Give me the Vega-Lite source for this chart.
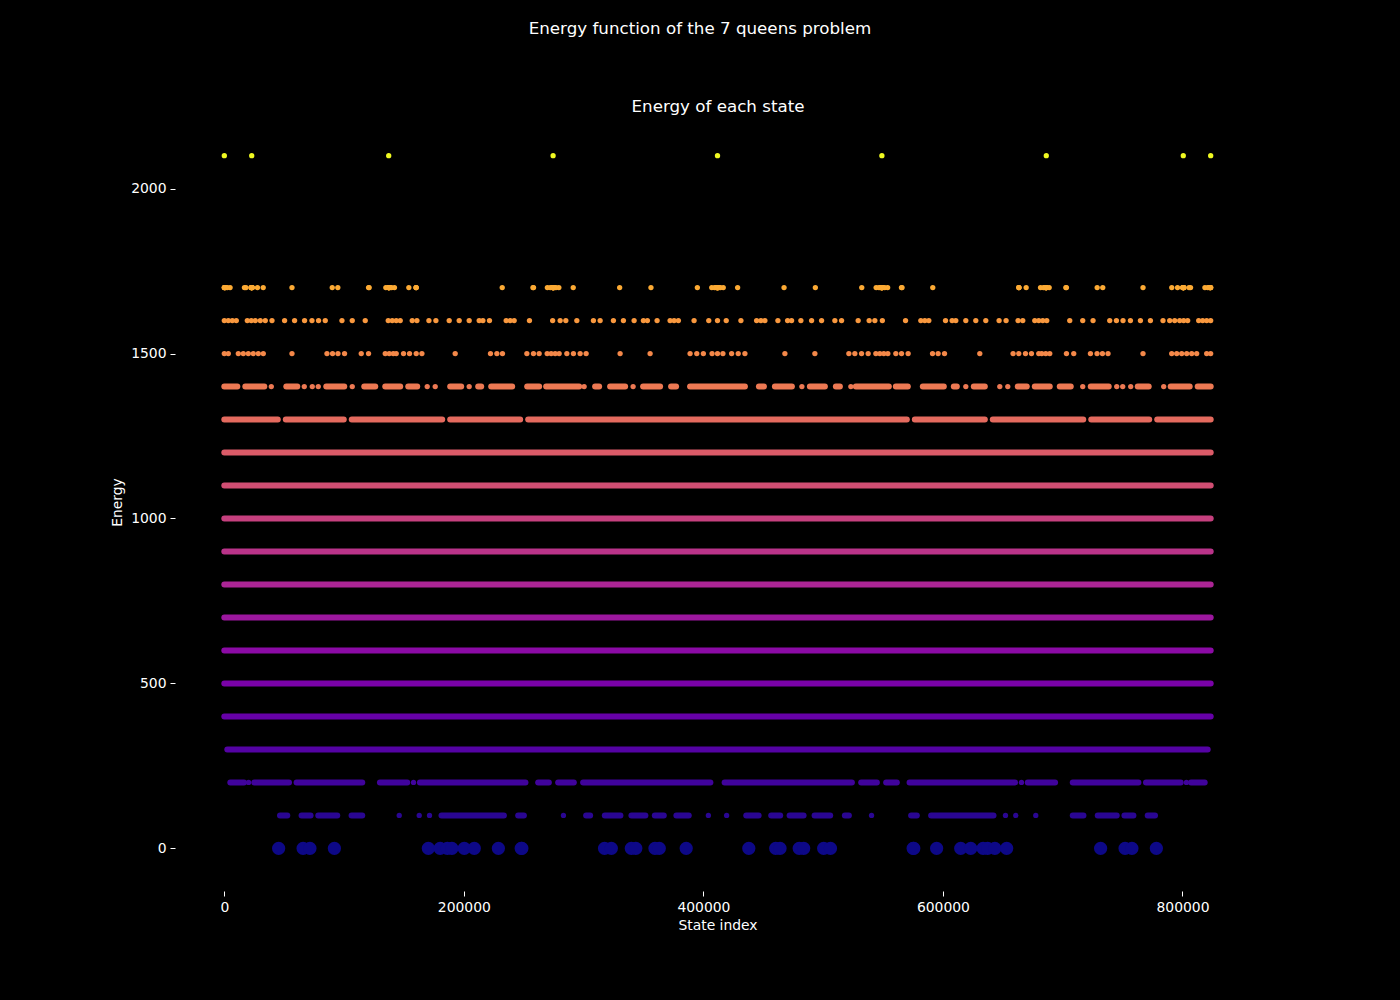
{
"$schema":"https://vega.github.io/schema/vega-lite/v6.json",
"width":1085,"height":762,
"autosize":{"type":"none"},
"padding":{"left":175,"top":121,"right":140,"bottom":117},
"background":"black",
"title":{"text":"Energy function of the 7 queens problem","fontSize":16.7,"font":"DejaVu Sans","fontWeight":"normal","color":"white","anchor":"middle","dx":-17.5,"offset":60},
"datasets":{
"pts":[
{"e":0,"x":45351},{"e":0,"x":65769},{"e":0,"x":71487},{"e":0,"x":91905},{"e":0,"x":170343},{"e":0,"x":180207},{"e":0,"x":186219},{"e":0,"x":189999},{"e":0,"x":200331},{"e":0,"x":208695},{"e":0,"x":228819},{"e":0,"x":247887},{"e":0,"x":248427},{"e":0,"x":317457},{"e":0,"x":323133},{"e":0,"x":339819},{"e":0,"x":343551},{"e":0,"x":359559},{"e":0,"x":363159},{"e":0,"x":385635},{"e":0,"x":437907},{"e":0,"x":460383},{"e":0,"x":463983},{"e":0,"x":479991},{"e":0,"x":483723},{"e":0,"x":500409},{"e":0,"x":506085},{"e":0,"x":575115},{"e":0,"x":575655},{"e":0,"x":594723},{"e":0,"x":614847},{"e":0,"x":623211},{"e":0,"x":633543},{"e":0,"x":637323},{"e":0,"x":643335},{"e":0,"x":653199},{"e":0,"x":731637},{"e":0,"x":752055},{"e":0,"x":757773},{"e":0,"x":778191},
{"e":2100,"x":0},{"e":2100,"x":22875},{"e":2100,"x":137257},{"e":2100,"x":274514},{"e":2100,"x":411771},{"e":2100,"x":549028},{"e":2100,"x":686285},{"e":2100,"x":800667},{"e":2100,"x":823542},
{"e":1700,"x":7},{"e":1700,"x":49},{"e":1700,"x":98},{"e":1700,"x":343},{"e":1700,"x":686},{"e":1700,"x":1029},{"e":1700,"x":2401},{"e":1700,"x":4802},{"e":1700,"x":16807},
{"e":1700,"x":120450},{"e":1700,"x":154064},{"e":1700,"x":137250},{"e":1700,"x":137264},{"e":1700,"x":134856},{"e":1700,"x":139658},{"e":1700,"x":142059},{"e":1700,"x":137208},{"e":1700,"x":137306},{"e":1700,"x":137355},{"e":1700,"x":136914},{"e":1700,"x":137600},{"e":1700,"x":137943},{"e":1700,"x":138286},
{"e":1700,"x":257707},{"e":1700,"x":291321},{"e":1700,"x":274507},{"e":1700,"x":274521},{"e":1700,"x":272113},{"e":1700,"x":276915},{"e":1700,"x":269712},{"e":1700,"x":279316},{"e":1700,"x":274465},{"e":1700,"x":274563},{"e":1700,"x":274416},{"e":1700,"x":274612},{"e":1700,"x":274171},{"e":1700,"x":274857},{"e":1700,"x":273828},{"e":1700,"x":275200},{"e":1700,"x":275543},
{"e":1700,"x":394964},{"e":1700,"x":428578},{"e":1700,"x":411764},{"e":1700,"x":411778},{"e":1700,"x":409370},{"e":1700,"x":414172},{"e":1700,"x":406969},{"e":1700,"x":416573},{"e":1700,"x":411722},{"e":1700,"x":411820},{"e":1700,"x":411673},{"e":1700,"x":411869},{"e":1700,"x":411428},{"e":1700,"x":412114},{"e":1700,"x":411085},{"e":1700,"x":412457},{"e":1700,"x":410742},{"e":1700,"x":412800},
{"e":1700,"x":565835},{"e":1700,"x":532221},{"e":1700,"x":549035},{"e":1700,"x":549021},{"e":1700,"x":551429},{"e":1700,"x":546627},{"e":1700,"x":553830},{"e":1700,"x":544226},{"e":1700,"x":549077},{"e":1700,"x":548979},{"e":1700,"x":549126},{"e":1700,"x":548930},{"e":1700,"x":549371},{"e":1700,"x":548685},{"e":1700,"x":549714},{"e":1700,"x":548342},{"e":1700,"x":547999},
{"e":1700,"x":703092},{"e":1700,"x":669478},{"e":1700,"x":686292},{"e":1700,"x":686278},{"e":1700,"x":688686},{"e":1700,"x":683884},{"e":1700,"x":681483},{"e":1700,"x":686334},{"e":1700,"x":686236},{"e":1700,"x":686187},{"e":1700,"x":686628},{"e":1700,"x":685942},{"e":1700,"x":685599},{"e":1700,"x":685256},
{"e":1700,"x":823535},{"e":1700,"x":823493},{"e":1700,"x":823444},{"e":1700,"x":823199},{"e":1700,"x":822856},{"e":1700,"x":822513},{"e":1700,"x":821141},{"e":1700,"x":818740},{"e":1700,"x":806735},
{"e":1700,"x":258173},{"e":1700,"x":493471},{"e":1700,"x":728769},{"e":1700,"x":56489},{"e":1700,"x":90103},{"e":1700,"x":18073},{"e":1700,"x":27677},{"e":1700,"x":32479},{"e":1700,"x":22189},{"e":1700,"x":23561},{"e":1700,"x":22679},{"e":1700,"x":22777},{"e":1700,"x":22973},{"e":1700,"x":22847},{"e":1700,"x":22861},{"e":1700,"x":22869},{"e":1700,"x":22871},{"e":1700,"x":22873},
{"e":1700,"x":94773},{"e":1700,"x":330071},{"e":1700,"x":565369},{"e":1700,"x":733439},{"e":1700,"x":767053},{"e":1700,"x":791063},{"e":1700,"x":795865},{"e":1700,"x":805469},{"e":1700,"x":799981},{"e":1700,"x":801353},{"e":1700,"x":800569},{"e":1700,"x":800765},{"e":1700,"x":800863},{"e":1700,"x":800681},{"e":1700,"x":800695},{"e":1700,"x":800669},{"e":1700,"x":800671},{"e":1700,"x":800673},
{"e":1700,"x":160126},{"e":1700,"x":160128},{"e":1700,"x":160130},{"e":1700,"x":120916},{"e":1700,"x":356214},{"e":1700,"x":591512},{"e":1700,"x":663412},{"e":1700,"x":663414},{"e":1700,"x":663416},{"e":1700,"x":702626},{"e":1700,"x":467328},{"e":1700,"x":232030},
{"e":1600,"x":1},{"e":1600,"x":3338},{"e":1600,"x":6676},{"e":1600,"x":10014},{"e":1600,"x":19194},{"e":1600,"x":22532},{"e":1600,"x":25870},{"e":1600,"x":30042},{"e":1600,"x":34215},{"e":1600,"x":39806},{"e":1600,"x":50320},{"e":1600,"x":58665},{"e":1600,"x":67010},{"e":1600,"x":73186},{"e":1600,"x":78693},{"e":1600,"x":84285},{"e":1600,"x":98221},{"e":1600,"x":106816},{"e":1600,"x":117665},{"e":1600,"x":136858},{"e":1600,"x":140196},{"e":1600,"x":143534},{"e":1600,"x":146872},{"e":1600,"x":156886},{"e":1600,"x":160808},{"e":1600,"x":170822},{"e":1600,"x":176664},{"e":1600,"x":187763},{"e":1600,"x":196108},{"e":1600,"x":204453},{"e":1600,"x":212798},{"e":1600,"x":215885},{"e":1600,"x":221393},{"e":1600,"x":235329},{"e":1600,"x":238667},{"e":1600,"x":242005},{"e":1600,"x":254773},{"e":1600,"x":274133},{"e":1600,"x":280392},{"e":1600,"x":285149},{"e":1600,"x":294328},{"e":1600,"x":308181},{"e":1600,"x":313772},{"e":1600,"x":324871},{"e":1600,"x":333216},{"e":1600,"x":342145},{"e":1600,"x":349906},{"e":1600,"x":353244},{"e":1600,"x":361339},{"e":1600,"x":372187},{"e":1600,"x":375525},{"e":1600,"x":379113},{"e":1600,"x":392215},{"e":1600,"x":404482},
{"e":1600,"x":411771},
{"e":1600,"x":823541},{"e":1600,"x":820204},{"e":1600,"x":816866},{"e":1600,"x":813528},{"e":1600,"x":804348},{"e":1600,"x":801010},{"e":1600,"x":797672},{"e":1600,"x":793500},{"e":1600,"x":789327},{"e":1600,"x":783736},{"e":1600,"x":773222},{"e":1600,"x":764877},{"e":1600,"x":756532},{"e":1600,"x":750356},{"e":1600,"x":744849},{"e":1600,"x":739257},{"e":1600,"x":725321},{"e":1600,"x":716726},{"e":1600,"x":705877},{"e":1600,"x":686684},{"e":1600,"x":683346},{"e":1600,"x":680008},{"e":1600,"x":676670},{"e":1600,"x":666656},{"e":1600,"x":662734},{"e":1600,"x":652720},{"e":1600,"x":646878},{"e":1600,"x":635779},{"e":1600,"x":627434},{"e":1600,"x":619089},{"e":1600,"x":610744},{"e":1600,"x":607657},{"e":1600,"x":602149},{"e":1600,"x":588213},{"e":1600,"x":584875},{"e":1600,"x":581537},{"e":1600,"x":568769},{"e":1600,"x":549409},{"e":1600,"x":543150},{"e":1600,"x":538393},{"e":1600,"x":529214},{"e":1600,"x":515361},{"e":1600,"x":509770},{"e":1600,"x":498671},{"e":1600,"x":490326},{"e":1600,"x":481397},{"e":1600,"x":473636},{"e":1600,"x":470298},{"e":1600,"x":462203},{"e":1600,"x":451355},{"e":1600,"x":448017},{"e":1600,"x":444429},{"e":1600,"x":431327},{"e":1600,"x":419060},
{"e":1500,"x":5},{"e":1500,"x":3338},{"e":1500,"x":11683},{"e":1500,"x":15856},{"e":1500,"x":20028},{"e":1500,"x":24201},{"e":1500,"x":28373},{"e":1500,"x":32546},{"e":1500,"x":56496},{"e":1500,"x":85703},{"e":1500,"x":90376},{"e":1500,"x":94883},{"e":1500,"x":100390},{"e":1500,"x":114327},{"e":1500,"x":120418},{"e":1500,"x":134355},{"e":1500,"x":137693},{"e":1500,"x":141031},{"e":1500,"x":143534},{"e":1500,"x":149626},{"e":1500,"x":154633},{"e":1500,"x":160224},{"e":1500,"x":164981},{"e":1500,"x":192770},{"e":1500,"x":222227},{"e":1500,"x":227568},{"e":1500,"x":232241},{"e":1500,"x":252603},{"e":1500,"x":258111},{"e":1500,"x":262868},{"e":1500,"x":269544},{"e":1500,"x":272882},{"e":1500,"x":276220},{"e":1500,"x":279558},{"e":1500,"x":285983},{"e":1500,"x":291491},{"e":1500,"x":297082},{"e":1500,"x":302089},{"e":1500,"x":330462},{"e":1500,"x":355497},{"e":1500,"x":388877},{"e":1500,"x":394468},{"e":1500,"x":399976},{"e":1500,"x":407236},
{"e":1500,"x":411771},
{"e":1500,"x":823537},{"e":1500,"x":820204},{"e":1500,"x":811859},{"e":1500,"x":807686},{"e":1500,"x":803514},{"e":1500,"x":799341},{"e":1500,"x":795169},{"e":1500,"x":790996},{"e":1500,"x":767046},{"e":1500,"x":737839},{"e":1500,"x":733166},{"e":1500,"x":728659},{"e":1500,"x":723152},{"e":1500,"x":709215},{"e":1500,"x":703124},{"e":1500,"x":689187},{"e":1500,"x":685849},{"e":1500,"x":682511},{"e":1500,"x":680008},{"e":1500,"x":673916},{"e":1500,"x":668909},{"e":1500,"x":663318},{"e":1500,"x":658561},{"e":1500,"x":630772},{"e":1500,"x":601315},{"e":1500,"x":595974},{"e":1500,"x":591301},{"e":1500,"x":570939},{"e":1500,"x":565431},{"e":1500,"x":560674},{"e":1500,"x":553998},{"e":1500,"x":550660},{"e":1500,"x":547322},{"e":1500,"x":543984},{"e":1500,"x":537559},{"e":1500,"x":532051},{"e":1500,"x":526460},{"e":1500,"x":521453},{"e":1500,"x":493080},{"e":1500,"x":468045},{"e":1500,"x":434665},{"e":1500,"x":429074},{"e":1500,"x":423566},{"e":1500,"x":416306},
{"e":1400,"x":39222},{"e":1400,"x":66760},{"e":1400,"x":73436},{"e":1400,"x":78443},{"e":1400,"x":106816},{"e":1400,"x":169404},{"e":1400,"x":176080},{"e":1400,"x":204453},{"e":1400,"x":300420},{"e":1400,"x":341311},{"e":1400,"x":784320},{"e":1400,"x":756782},{"e":1400,"x":750106},{"e":1400,"x":745099},{"e":1400,"x":716726},{"e":1400,"x":654138},{"e":1400,"x":647462},{"e":1400,"x":619089},{"e":1400,"x":523122},{"e":1400,"x":482231},
{"e":200,"x":20278},{"e":200,"x":157971},{"e":200,"x":803264},{"e":200,"x":665571},
{"e":100,"x":146038},{"e":100,"x":162728},{"e":100,"x":171323},{"e":100,"x":283146},{"e":100,"x":404148},{"e":100,"x":677504},{"e":100,"x":660814},{"e":100,"x":652219},{"e":100,"x":540396},{"e":100,"x":419394}
],
"runs":[
{"e":1200,"x0":0,"x1":823542},{"e":1100,"x0":0,"x1":823542},{"e":1000,"x0":0,"x1":823542},{"e":900,"x0":0,"x1":823542},{"e":800,"x0":0,"x1":823542},{"e":700,"x0":0,"x1":823542},{"e":600,"x0":0,"x1":823542},{"e":500,"x0":0,"x1":823542},{"e":400,"x0":0,"x1":823542},
{"e":300,"x0":2504,"x1":821038},
{"e":1300,"x0":0,"x1":44646},{"e":1300,"x0":51322,"x1":99723},{"e":1300,"x0":106399,"x1":181921},{"e":1300,"x0":188597,"x1":247012},{"e":1300,"x0":253688,"x1":569854},{"e":1300,"x0":576530,"x1":634945},{"e":1300,"x0":641621,"x1":717143},{"e":1300,"x0":723819,"x1":772220},{"e":1300,"x0":778896,"x1":823542},
{"e":1400,"x0":0,"x1":10849},{"e":1400,"x0":17525,"x1":33380},{"e":1400,"x0":51739,"x1":60919},{"e":1400,"x0":85119,"x1":100140},{"e":1400,"x0":116830,"x1":126010},{"e":1400,"x0":134355,"x1":146872},{"e":1400,"x0":153548,"x1":161059},{"e":1400,"x0":188597,"x1":197777},{"e":1400,"x0":211963,"x1":214467},{"e":1400,"x0":222812,"x1":240336},{"e":1400,"x0":252854,"x1":262868},{"e":1400,"x0":268709,"x1":296248},{"e":1400,"x0":309600,"x1":312938},{"e":1400,"x0":322117,"x1":334635},{"e":1400,"x0":349656,"x1":363842},{"e":1400,"x0":373022,"x1":377194},{"e":1400,"x0":388877,"x1":434665},
{"e":1400,"x0":812693,"x1":823542},{"e":1400,"x0":790162,"x1":806017},{"e":1400,"x0":762623,"x1":771803},{"e":1400,"x0":723402,"x1":738423},{"e":1400,"x0":697532,"x1":706712},{"e":1400,"x0":676670,"x1":689187},{"e":1400,"x0":662483,"x1":669994},{"e":1400,"x0":625765,"x1":634945},{"e":1400,"x0":609075,"x1":611579},{"e":1400,"x0":583206,"x1":600730},{"e":1400,"x0":560674,"x1":570688},{"e":1400,"x0":527294,"x1":554833},{"e":1400,"x0":510604,"x1":513942},{"e":1400,"x0":488907,"x1":501425},{"e":1400,"x0":459700,"x1":473886},{"e":1400,"x0":446348,"x1":450520},
{"e":200,"x0":5007,"x1":16440},{"e":200,"x0":25035,"x1":53992},{"e":200,"x0":60334,"x1":115161},{"e":200,"x0":129932,"x1":152714},{"e":200,"x0":163312,"x1":251435},{"e":200,"x0":262033,"x1":270962},{"e":200,"x0":278723,"x1":291825},{"e":200,"x0":299586,"x1":405817},
{"e":200,"x0":807102,"x1":818535},{"e":200,"x0":769550,"x1":798507},{"e":200,"x0":708381,"x1":763208},{"e":200,"x0":670828,"x1":693610},{"e":200,"x0":572107,"x1":660230},{"e":200,"x0":552580,"x1":561509},{"e":200,"x0":531717,"x1":544819},{"e":200,"x0":417725,"x1":523956},
{"e":100,"x0":46482,"x1":52574},{"e":100,"x0":64507,"x1":72017},{"e":100,"x0":78443,"x1":94299},{"e":100,"x0":106232,"x1":115161},{"e":100,"x0":181337,"x1":233410},{"e":100,"x0":245343,"x1":250100},{"e":100,"x0":302089,"x1":305427},{"e":100,"x0":317694,"x1":330712},{"e":100,"x0":339892,"x1":351575},{"e":100,"x0":359419,"x1":366930},{"e":100,"x0":377444,"x1":387792},
{"e":100,"x0":770968,"x1":777060},{"e":100,"x0":751525,"x1":759035},{"e":100,"x0":729243,"x1":745099},{"e":100,"x0":708381,"x1":717310},{"e":100,"x0":590132,"x1":642205},{"e":100,"x0":573442,"x1":578199},{"e":100,"x0":518115,"x1":521453},{"e":100,"x0":492830,"x1":505848},{"e":100,"x0":471967,"x1":483650},{"e":100,"x0":456612,"x1":464123},{"e":100,"x0":435750,"x1":446098}
]
},
"layer":[
{"data":{"name":"runs"},
 "mark":{"type":"rule","strokeWidth":6,"strokeCap":"round","opacity":1},
 "encoding":{
  "x":{"field":"x0","type":"quantitative","scale":{"domain":[-41177,864719],"nice":false,"zero":false},
       "axis":{"title":"State index","values":[0,200000,400000,600000,800000],"format":"d","labelFlush":false,"titlePadding":5,"offset":8}},
  "x2":{"field":"x1"},
  "y":{"field":"e","type":"quantitative","scale":{"domain":[-105,2205],"nice":false,"zero":false},
       "axis":{"title":"Energy","values":[0,500,1000,1500,2000],"format":"d","labelFlush":false,"titlePadding":6}},
  "color":{"field":"e","type":"quantitative","scale":{"scheme":"plasma","domain":[0,2100]},"legend":null}
 }},
{"data":{"name":"pts"},
 "mark":{"type":"circle","opacity":1},
 "encoding":{
  "x":{"field":"x","type":"quantitative",
       "axis":{"orient":"top","title":"Energy of each state","labels":false,"ticks":false,"domain":false,"titleFontSize":16.7,"titlePadding":6}},
  "y":{"field":"e","type":"quantitative"},
  "color":{"field":"e","type":"quantitative","scale":{"scheme":"plasma","domain":[0,2100]},"legend":null},
  "size":{"condition":{"test":"datum.e == 0","value":177},"value":28}
 }}
],
"resolve":{"axis":{"x":"independent"}},
"config":{
 "view":{"stroke":null},
 "axis":{"domain":false,"grid":false,"tickColor":"white","tickSize":5,"tickWidth":1,"labelColor":"white","labelFont":"DejaVu Sans","labelFontSize":13.9,"labelPadding":4,"titleColor":"white","titleFont":"DejaVu Sans","titleFontSize":13.9,"titleFontWeight":"normal"}
}
}
